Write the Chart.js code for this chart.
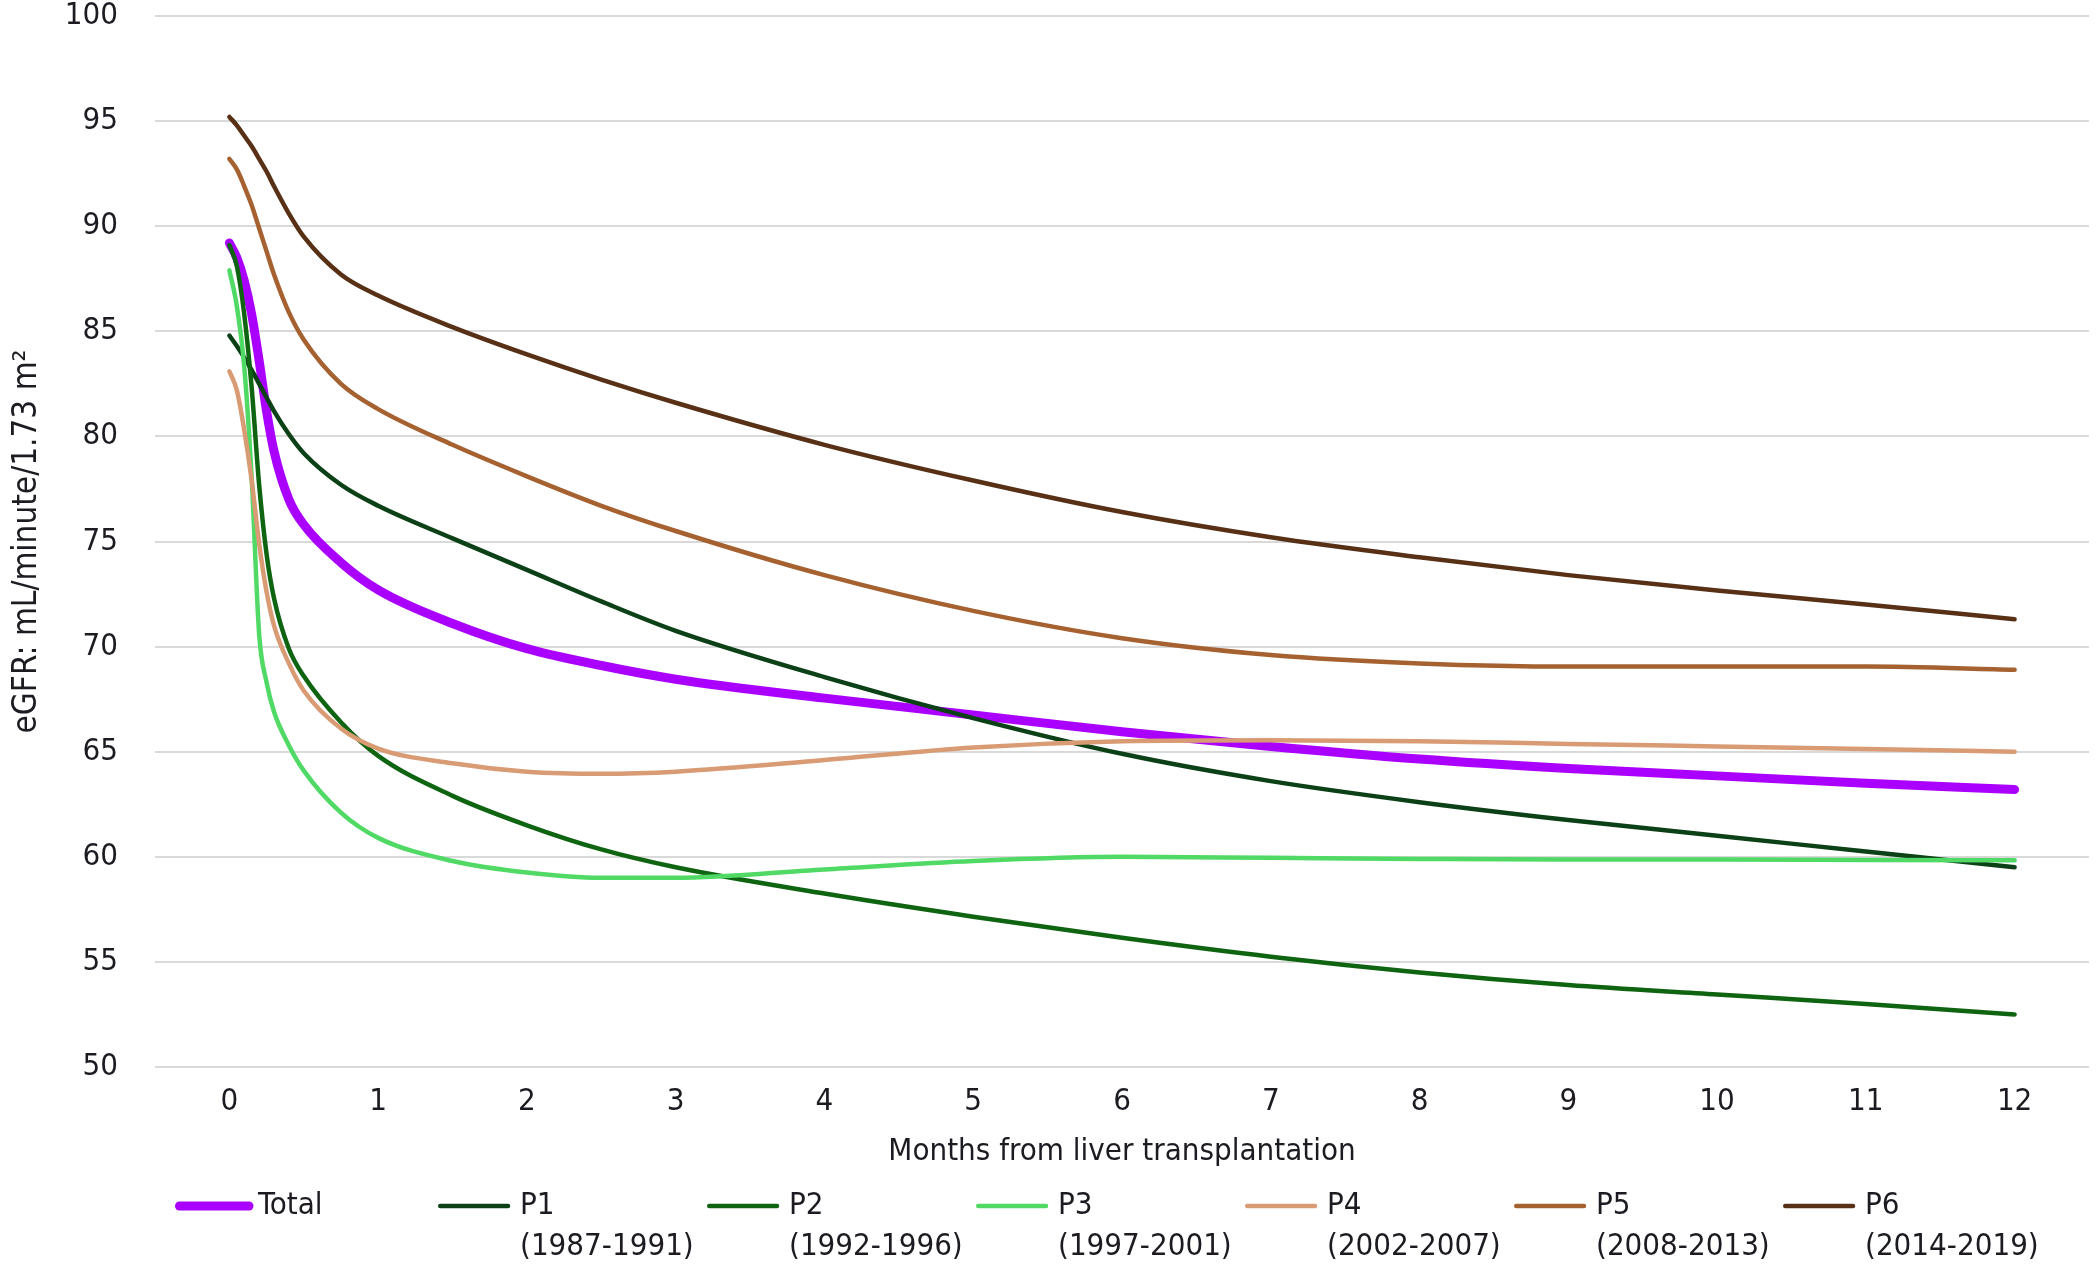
<!DOCTYPE html>
<html>
<head>
<meta charset="utf-8">
<script src="https://cdn.jsdelivr.net/npm/chart.js@4.4.1/dist/chart.umd.min.js"></script>
<style>
  html, body { margin: 0; padding: 0; background: #ffffff; }
  #wrap { width: 2100px; height: 1274px; }
</style>
</head>
<body>
<div id="wrap"><canvas id="c" width="2100" height="1274"></canvas></div>
<script>
// ---- data ----
const months = [0, 0.05, 0.1, 0.15, 0.2, 0.25, 0.3, 0.4, 0.5, 0.75, 1, 1.5, 2, 2.5, 3, 4, 5, 6, 7, 8, 9, 10, 11, 12];
const totalVals = [89.2, 88.5, 87.4, 85.8, 83.6, 81.2, 79.3, 77.0, 75.8, 74.0, 72.7, 71.1, 69.9, 69.1, 68.45, 67.55, 66.75, 65.95, 65.25, 64.65, 64.2, 63.85, 63.5, 63.2];
const p1Vals = [84.8, 84.3, 83.75, 83.15, 82.5, 81.85, 81.2, 80.1, 79.2, 77.7, 76.7, 75.15, 73.65, 72.15, 70.75, 68.55, 66.6, 64.9, 63.6, 62.6, 61.75, 61.0, 60.25, 59.5];
const p2Vals = [89.1, 88.1, 85.8, 82.3, 77.7, 74.4, 72.3, 69.9, 68.6, 66.4, 64.8, 62.9, 61.5, 60.35, 59.5, 58.25, 57.15, 56.15, 55.25, 54.5, 53.9, 53.45, 53.0, 52.5];
const p3Vals = [87.9, 86.2, 83.3, 78.0, 70.6, 68.3, 66.9, 65.3, 64.1, 62.1, 60.9, 59.8, 59.25, 59.0, 59.0, 59.4, 59.8, 60.0, 59.95, 59.9, 59.87, 59.87, 59.85, 59.83];
const p4Vals = [83.1, 82.2, 80.3, 77.9, 74.9, 72.6, 71.0, 69.2, 67.9, 66.1, 65.15, 64.45, 64.05, 63.95, 64.05, 64.6, 65.2, 65.5, 65.55, 65.5, 65.37, 65.25, 65.13, 65.0];
const p5Vals = [93.2, 92.7, 91.9, 91.0, 89.9, 88.8, 87.7, 85.9, 84.6, 82.5, 81.3, 79.6, 78.1, 76.7, 75.5, 73.4, 71.7, 70.4, 69.6, 69.2, 69.05, 69.05, 69.05, 68.9];
const p6Vals = [95.2, 94.8, 94.3, 93.8, 93.2, 92.6, 91.9, 90.6, 89.5, 87.7, 86.7, 85.2, 83.9, 82.7, 81.6, 79.6, 77.9, 76.4, 75.2, 74.25, 73.4, 72.67, 72.0, 71.3];

const seriesNames = ['Total', 'P1', 'P2', 'P3', 'P4', 'P5', 'P6'];
const seriesPeriods = ['', '(1987-1991)', '(1992-1996)', '(1997-2001)', '(2002-2007)', '(2008-2013)', '(2014-2019)'];
const seriesValues = [totalVals, p1Vals, p2Vals, p3Vals, p4Vals, p5Vals, p6Vals];
const xTickValues = [0, 1, 2, 3, 4, 5, 6, 7, 8, 9, 10, 11, 12];
const yTickMin = 50, yTickMax = 100, yTickStep = 5;

// ---- styles ----
const colors = ['#aa00ff', '#0c4016', '#0e6410', '#50d964', '#d99b73', '#a66130', '#573016'];
const widths = [9, 4.5, 4.5, 4.5, 4.5, 4.5, 4.5];
const FONT = "'DejaVu Sans Condensed', 'DejaVu Sans', sans-serif";
const TEXT = '#1e1a21';
const FS = 31;

const datasets = seriesNames.map((name, i) => ({
  label: name,
  data: months.map((m, k) => ({ x: m, y: seriesValues[i][k] })),
  borderColor: colors[i],
  backgroundColor: colors[i],
  borderWidth: widths[i],
  pointRadius: 0,
  pointHoverRadius: 0,
  cubicInterpolationMode: 'monotone',
  borderCapStyle: 'round',
  borderJoinStyle: 'round',
  fill: false,
  order: seriesNames.length - i
}));

const legendPlugin = {
  id: 'customLegend',
  afterDraw(chart) {
    const ctx = chart.ctx;
    const startX = 175, spacing = 269, lineLen = 70, rowY = 1206, row2Y = 1247;
    ctx.save();
    ctx.font = FS + 'px ' + FONT;
    ctx.fillStyle = TEXT;
    ctx.textBaseline = 'middle';
    ctx.textAlign = 'left';
    chart.data.datasets.forEach((ds, i) => {
      const x0 = (i === 0 ? startX : startX + 263 + (i - 1) * spacing);
      ctx.beginPath();
      ctx.lineCap = 'round';
      ctx.strokeStyle = ds.borderColor;
      ctx.lineWidth = ds.borderWidth;
      ctx.moveTo(x0 + ds.borderWidth / 2, rowY);
      ctx.lineTo(x0 + lineLen + (i === 0 ? 4 : 0), rowY);
      ctx.stroke();
      const tx = x0 + lineLen + (i === 0 ? 13 : 12);
      ctx.fillText(seriesNames[i], tx, rowY);
      if (seriesPeriods[i]) ctx.fillText(seriesPeriods[i], tx, row2Y);
    });
    ctx.restore();
  }
};

new Chart(document.getElementById('c'), {
  type: 'line',
  data: { datasets },
  plugins: [legendPlugin],
  options: {
    responsive: false,
    animation: false,
    devicePixelRatio: 1,
    layout: { autoPadding: false, padding: { top: 16, right: 11, left: 0, bottom: 0 } },
    plugins: { legend: { display: false }, tooltip: { enabled: false } },
    scales: {
      x: {
        type: 'linear',
        min: -0.5,
        max: 12.5,
        afterBuildTicks: (s) => { s.ticks = xTickValues.map(v => ({ value: v })); },
        afterFit: (s) => { s.height = 207; s.paddingLeft = 0; s.paddingRight = 0; },
        grid: { display: false, drawTicks: false },
        border: { display: false },
        ticks: { font: { family: FONT, size: FS }, color: TEXT, padding: 16, maxRotation: 0, autoSkip: false },
        title: { display: true, text: 'Months from liver transplantation', font: { family: FONT, size: FS }, color: TEXT, padding: { top: 0, bottom: 103 } }
      },
      y: {
        min: yTickMin,
        max: yTickMax,
        afterFit: (s) => { s.width = 155; s.paddingTop = 0; s.paddingBottom = 0; },
        ticks: { stepSize: yTickStep, font: { family: FONT, size: FS }, color: TEXT, padding: 37 },
        grid: { color: '#d9d9d9', lineWidth: 2, drawTicks: false },
        border: { display: false },
        title: { display: true, text: 'eGFR: mL/minute/1.73 m²', font: { family: FONT, size: 33 }, color: TEXT, padding: { top: 8, bottom: 0 } }
      }
    }
  }
});
</script>
</body>
</html>
